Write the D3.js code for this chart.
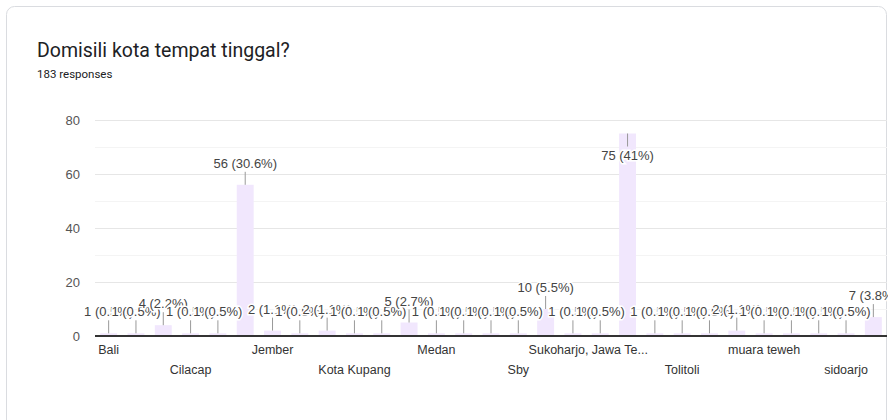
<!DOCTYPE html>
<html>
<head>
<meta charset="utf-8">
<script src="https://cdn.jsdelivr.net/npm/d3@7"></script>
<style>
  body { margin: 0; background: #fff; }
  svg { display: block; }
</style>
</head>
<body>
<div id="chart"></div>
<script>
// question + counts
const title = "Domisili kota tempat tinggal?";
const subtitle = "183 responses";
const cities = [
    "Bali", "Banyuwangi", "Bondowoso", "Cilacap", "Gresik", "JEMBER", "Jember",
    "Jombang", "Kediri", "Kota Kupang", "Lumajang", "Malang", "Medan", "Mojokerto",
    "Pasuruan", "Sby", "Sidoarjo", "Situbondo", "Sukoharjo, Jawa Tengah", "Surabaya",
    "Tangerang", "Tolitoli", "Tuban", "jember", "muara teweh", "probolinggo", "sby",
    "sidoarjo", "surabaya"
];
const counts = [
    1, 1, 4, 1, 1, 56, 2,
    1, 2, 1, 1, 5, 1, 1,
    1, 1, 10, 1, 1, 75,
    1, 1, 1, 2, 1, 1, 1,
    1, 7
];
const yTicks = [0, 20, 40, 60, 80];
const yMinorTicks = [10, 30, 50, 70];

const total = d3.sum(counts);
const data = cities.map((c, i) => ({city: c, n: counts[i], i: i}));

const width = 888;
const height = 420;
const margin = { top: 120, right: 1, bottom: 84, left: 95 };

const svg = d3.select("#chart").append("svg")
    .attr("width", width)
    .attr("height", height)
    .style("font-family", "Arial, 'Liberation Sans', sans-serif");

// card outline
svg.append("rect")
    .attr("x", 6.5).attr("y", 6.5)
    .attr("width", 880).attr("height", 430)
    .attr("rx", 8)
    .attr("fill", "#fff")
    .attr("stroke", "#dadce0");

svg.append("text")
    .attr("x", 37).attr("y", 57)
    .attr("font-family", "Roboto, sans-serif")
    .attr("font-size", 19.5)
    .attr("fill", "#202124")
    .text(title);

svg.append("text")
    .attr("x", 37).attr("y", 78)
    .attr("font-family", "Roboto, sans-serif")
    .attr("font-size", 11.5)
    .attr("fill", "#202124")
    .text(subtitle);

const x = d3.scaleBand()
    .domain(cities)
    .range([margin.left, width - margin.right])
    .paddingInner(0.38)
    .paddingOuter(0.19);

const y = d3.scaleLinear()
    .domain([0, 80])
    .range([height - margin.bottom, margin.top]);

// gridlines
svg.append("g")
    .selectAll("line")
    .data(yMinorTicks)
    .join("line")
    .attr("x1", margin.left).attr("x2", width - margin.right)
    .attr("y1", d => Math.round(y(d)) + 0.5).attr("y2", d => Math.round(y(d)) + 0.5)
    .attr("stroke", "#f4f4f4");

svg.append("g")
    .attr("transform", `translate(${margin.left},0)`)
    .call(d3.axisLeft(y).tickValues(yTicks).tickSize(-(width - margin.right - margin.left)).tickPadding(15))
    .call(g => g.select(".domain").remove())
    .call(g => g.selectAll(".tick line").attr("stroke", "#e6e6e6"))
    .call(g => g.selectAll(".tick text")
        .attr("font-size", 13)
        .attr("fill", "#555")
        .attr("font-family", "Arial, 'Liberation Sans', sans-serif"));

// bars
svg.append("g")
    .selectAll("rect")
    .data(data)
    .join("rect")
    .attr("x", d => x(d.city))
    .attr("y", d => y(d.n))
    .attr("width", x.bandwidth())
    .attr("height", d => y(0) - y(d.n))
    .attr("fill", "#f1e7fd");

// baseline
svg.append("line")
    .attr("x1", margin.left).attr("x2", width - margin.right)
    .attr("y1", y(0)).attr("y2", y(0))
    .attr("stroke", "#333")
    .attr("stroke-width", 2);

// x axis: every third label, staggered on two rows
const xAxis = svg.append("g")
    .attr("transform", `translate(0,${y(0)})`)
    .call(d3.axisBottom(x).tickSize(0).tickFormat((d, i) => i % 3 === 0 ? d : ""))
    .call(g => g.select(".domain").remove());

xAxis.selectAll(".tick text")
    .attr("font-size", 12.5)
    .attr("fill", "#333")
    .attr("font-family", "Arial, 'Liberation Sans', sans-serif")
    .attr("dy", 0)
    .attr("y", (d, i) => (i / 3) % 2 === 0 ? 18 : 38)
    .each(function() {
        const t = d3.select(this);
        let s = t.text();
        if (this.getComputedTextLength() > 122) {
            while (s.length > 1 && this.getComputedTextLength() > 122) {
                s = s.slice(0, -1);
                t.text(s.trimEnd() + "...");
            }
            // google keeps the clipped label shifted a bit left
            t.attr("x", -12);
        }
    });

// annotations with stems (flip inside the bar when there is no room above)
const stem = 13;
const ann = svg.append("g");
data.forEach(d => {
    const top = y(d.n);
    const cx = x(d.city) + x.bandwidth() / 2;
    const label = `${d.n} (${+(d.n / total * 100).toFixed(1)}%)`;
    const inside = top - stem - 18 < margin.top;
    const y2 = inside ? top + stem : top - stem;
    ann.append("line")
        .attr("x1", cx).attr("x2", cx)
        .attr("y1", top).attr("y2", y2)
        .attr("stroke", "#999");
    ann.append("text")
        .attr("x", cx)
        .attr("y", inside ? y2 + 13 : y2 - 4)
        .attr("text-anchor", "middle")
        .attr("font-size", 13)
        .attr("fill", "#444")
        .attr("stroke", "#fff")
        .attr("stroke-width", 3)
        .attr("paint-order", "stroke")
        .text(label);
});
</script>
</body>
</html>
